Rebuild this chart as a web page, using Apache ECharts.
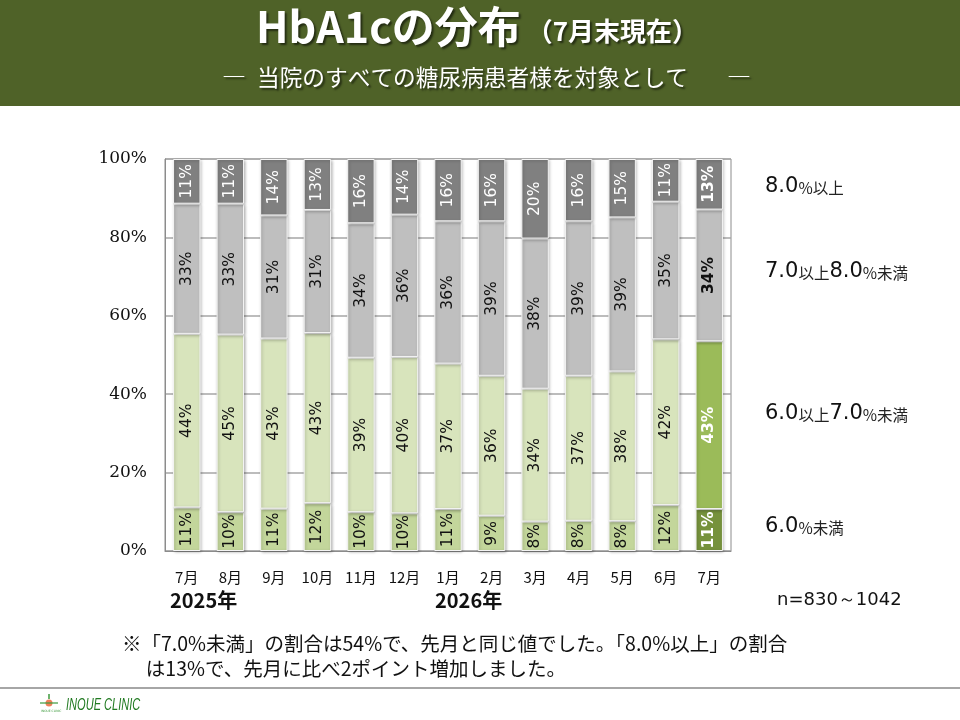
<!DOCTYPE html>
<html>
<head>
<meta charset="utf-8">
<script src="https://cdn.jsdelivr.net/npm/echarts@6/dist/echarts.min.js"></script>
<style>
  html, body { margin: 0; padding: 0; background: #fff; }
  #chart { width: 960px; height: 720px; }
</style>
</head>
<body>
<div id="chart"></div>
<script>
// months on the x axis (Jul 2025 .. Jul 2026)
var months = ["7月", "8月", "9月", "10月", "11月", "12月", "1月", "2月", "3月", "4月", "5月", "6月", "7月"];

// share of patients per HbA1c band, percent
var under60 = [11.1, 9.9, 10.8, 12.2, 9.9, 9.6, 10.7, 9.0, 7.5, 7.7, 7.6, 11.7, 10.7];
var from60to70 = [44.3, 45.3, 43.4, 43.4, 39.4, 39.9, 37.1, 35.7, 33.9, 37.0, 38.2, 42.3, 42.8];
var from70to80 = [33.2, 33.4, 31.4, 31.4, 34.3, 36.3, 36.3, 39.4, 38.3, 39.4, 39.3, 35.1, 33.6];
var over80 = [11.4, 11.4, 14.4, 13.0, 16.4, 14.2, 15.9, 15.9, 20.3, 15.9, 14.9, 10.9, 12.9];

var yTicks = [0, 20, 40, 60, 80, 100];

var FONT_JP = "'Noto Sans CJK JP', 'Noto Sans', sans-serif";
var LABEL_FONT = "'DejaVu Sans', sans-serif";

// builds one stacked series; the latest month gets its own highlight colour
function bandSeries(name, values, color, labelColor, lastColor, lastLabelColor) {
    var last = values.length - 1;
    return {
        name: name,
        type: "bar",
        stack: "total",
        barCategoryGap: "37%",
        data: values.map(function (v, i) {
            if (i !== last) return v;
            return {
                value: v,
                itemStyle: { color: lastColor },
                label: { color: lastLabelColor, fontWeight: "bold" }
            };
        }),
        itemStyle: {
            color: color,
            borderColor: "#f4f4f4",
            borderWidth: 1,
            shadowColor: "rgba(0,0,0,0.28)",
            shadowBlur: 3,
            shadowOffsetX: 1,
            shadowOffsetY: 1
        },
        label: {
            show: true,
            position: "inside",
            rotate: 90,
            color: labelColor,
            fontFamily: LABEL_FONT,
            fontSize: 15.5,
            formatter: function (p) {
                return Math.round(p.value) + "%";
            }
        },
        emphasis: { disabled: true }
    };
}

// right-hand band names: numbers large, kanji and % small
function bandText(x, y, parts) {
    return {
        type: "text",
        left: x,
        top: y - 12,
        style: {
            text: parts,
            rich: {
                n: { fontFamily: "'DejaVu Sans', sans-serif", fontSize: 21, fill: "#111" },
                k: { fontFamily: FONT_JP, fontSize: 15.5, fill: "#222", padding: [3, 0, 0, 0] }
            }
        }
    };
}

var titleShadow = {
    textShadowColor: "rgba(0,0,0,0.55)",
    textShadowBlur: 2,
    textShadowOffsetX: 2,
    textShadowOffsetY: 2
};

var option = {
    animation: false,
    backgroundColor: "#ffffff",
    grid: {
        left: 165,
        right: 229,
        top: 159,
        bottom: 169,
        show: true,
        borderColor: "#8c8c8c",
        borderWidth: 1
    },
    xAxis: {
        type: "category",
        data: months,
        axisLine: { lineStyle: { color: "#8c8c8c", width: 1 } },
        axisTick: { show: false },
        axisLabel: {
            margin: 19,
            color: "#111",
            fontFamily: FONT_JP,
            fontSize: 15
        }
    },
    yAxis: {
        type: "value",
        min: 0,
        max: 100,
        interval: 20,
        axisLine: { show: true, lineStyle: { color: "#8c8c8c" } },
        axisTick: { show: false },
        splitLine: { lineStyle: { color: "#a6a6a6", width: 1.5 } },
        axisLabel: {
            margin: 18,
            color: "#111",
            fontFamily: "'DejaVu Serif', serif",
            fontSize: 17,
            formatter: function (v) {
                return yTicks.indexOf(v) >= 0 ? v + "%" : "";
            }
        }
    },
    series: [
        bandSeries("6.0%未満", under60, "#c3d69b", "#111", "#76923c", "#ffffff"),
        bandSeries("6.0以上7.0%未満", from60to70, "#d8e4bc", "#111", "#9bbb59", "#ffffff"),
        bandSeries("7.0以上8.0%未満", from70to80, "#bfbfbf", "#111", "#bfbfbf", "#111"),
        bandSeries("8.0%以上", over80, "#808080", "#ffffff", "#808080", "#ffffff")
    ],
    graphic: [
        // header band
        { type: "rect", left: 0, top: 0, z: -1, shape: { width: 960, height: 106 }, style: { fill: "#4f6228" } },
        {
            type: "text",
            left: 256,
            top: 5,
            style: {
                text: "{a|HbA1cの分布}{b| （7月末現在）}",
                rich: {
                    a: Object.assign({ fontFamily: FONT_JP, fontWeight: "bold", fontSize: 43, fill: "#fff" }, titleShadow),
                    b: Object.assign({ fontFamily: FONT_JP, fontWeight: "bold", fontSize: 26, fill: "#fff", padding: [10, 0, 0, 0] }, titleShadow)
                }
            }
        },
        { type: "text", left: 222, top: 64, style: Object.assign({ text: "―", fontFamily: FONT_JP, fontSize: 24, fill: "#fff" }, titleShadow) },
        {
            type: "text",
            left: 257,
            top: 66,
            style: Object.assign({
                text: "当院のすべての糖尿病患者様を対象として",
                fontFamily: FONT_JP,
                fontSize: 22.7,
                fill: "#fff"
            }, titleShadow)
        },
        { type: "text", left: 727, top: 64, style: Object.assign({ text: "―", fontFamily: FONT_JP, fontSize: 24, fill: "#fff" }, titleShadow) },
        // year labels under the month axis
        { type: "text", left: 170, top: 590, style: { text: "2025年", fontFamily: FONT_JP, fontWeight: "bold", fontSize: 20, fill: "#111" } },
        { type: "text", left: 435, top: 590, style: { text: "2026年", fontFamily: FONT_JP, fontWeight: "bold", fontSize: 20, fill: "#111" } },
        // band names at the right
        bandText(765, 188, "{n|8.0}{k|%以上}"),
        bandText(765, 273, "{n|7.0}{k|以上}{n|8.0}{k|%未満}"),
        bandText(765, 415, "{n|6.0}{k|以上}{n|7.0}{k|%未満}"),
        bandText(765, 528, "{n|6.0}{k|%未満}"),
        { type: "text", left: 777, top: 591, style: { text: "n=830～1042", fontFamily: "'DejaVu Sans', sans-serif", fontSize: 18, fill: "#111" } },
        // footnote
        {
            type: "text",
            left: 122,
            top: 631,
            style: {
                text: "※「7.0%未満」の割合は54%で、先月と同じ値でした。「8.0%以上」の割合\n　 は13%で、先月に比べ2ポイント増加しました。",
                fontFamily: FONT_JP,
                fontSize: 19.5,
                lineHeight: 25,
                fill: "#111"
            }
        },
        // footer rule and clinic mark
        { type: "line", shape: { x1: 0, y1: 688, x2: 960, y2: 688 }, style: { stroke: "#a6a6a6", lineWidth: 2 } },
        { type: "circle", shape: { cx: 49, cy: 703, r: 3.5 }, style: { fill: "#f0805a" } },
        { type: "line", shape: { x1: 40, y1: 703, x2: 58, y2: 703 }, style: { stroke: "#3c9a3c", lineWidth: 1.2 } },
        { type: "line", shape: { x1: 49, y1: 694, x2: 49, y2: 699 }, style: { stroke: "#3c9a3c", lineWidth: 1.5 } },
        { type: "text", left: 41, top: 710, style: { text: "INOUE CLINIC", fontFamily: "'DejaVu Sans', sans-serif", fontSize: 3, fill: "#3c9a3c" } },
        {
            type: "text",
            x: 66,
            y: 697,
            scaleX: 0.65,
            style: { text: "INOUE CLINIC", fontFamily: "'Liberation Sans', sans-serif", fontStyle: "italic", fontSize: 17, fill: "#217a21" }
        }
    ]
};

echarts.init(document.getElementById("chart")).setOption(option);
</script>
</body>
</html>
